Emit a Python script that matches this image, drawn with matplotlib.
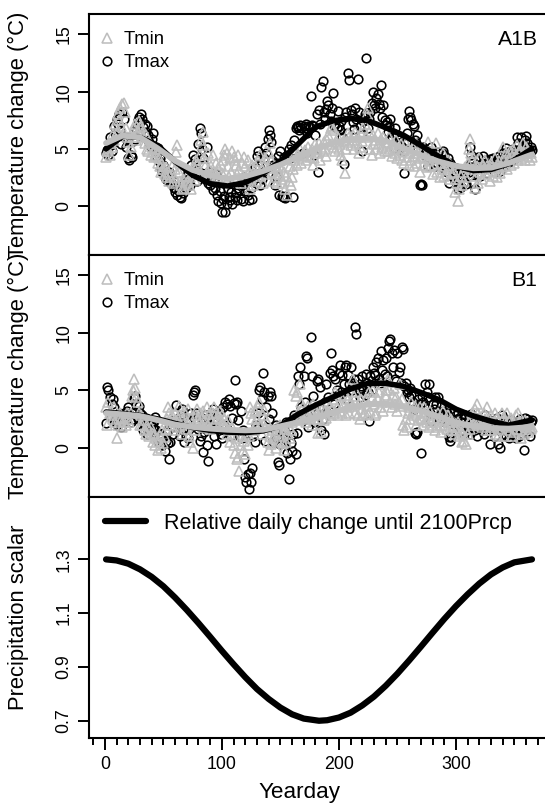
import matplotlib
matplotlib.use('Agg')
import matplotlib.pyplot as plt
from matplotlib.ticker import MultipleLocator, FixedLocator
import numpy as np

plt.rcParams['font.family'] = ['Liberation Sans', 'DejaVu Sans']

days = np.arange(1, 366)

# ---------------- A1B scenario (daily change, deg C) ----------------
a1b_tmax = [
    4.6, 4.9, 4.5, 6.0, 5.3, 4.8, 5.6, 7.0, 6.4, 7.6,
    7.2, 8.0, 6.6, 5.4, 8.2, 7.6, 6.0, 5.2, 5.8, 4.2,
    4.0, 4.5, 4.3, 5.7, 6.5, 5.9, 6.8, 7.5, 7.8, 7.3,
    8.0, 7.6, 6.9, 7.2, 6.5, 7.0, 6.2, 5.6, 5.2, 5.9,
    6.4, 5.0, 4.8, 4.4, 5.1, 3.9, 4.2, 3.3, 3.0, 3.6,
    2.7, 2.4, 2.9, 2.2, 3.0, 2.5, 1.9, 2.3, 1.6, 1.2,
    1.5, 1.0, 1.3, 0.8, 0.7, 1.4, 1.1, 2.0, 1.6, 2.6,
    3.0, 2.4, 1.8, 3.6, 4.5, 3.2, 4.1, 2.8, 2.2, 5.4,
    6.8, 6.4, 5.0, 4.2, 3.6, 2.4, 5.2, 2.0, 3.0, 1.8,
    2.5, 1.4, 2.2, 1.6, 2.8, 1.0, 0.4, 1.3, 0.3, -0.5,
    0.6, 0.9, -0.5, 0.2, 1.5, 0.8, 0.5, 1.2, 0.2, 2.2,
    0.8, 1.1, 0.5, 1.6, 1.4, 0.6, 1.8, 0.4, 2.5, 1.3,
    2.0, 1.0, 0.5, 2.2, 1.6, 0.6, 2.8, 3.4, 2.0, 4.4,
    4.8, 3.5, 1.8, 2.4, 3.0, 4.2, 5.2, 4.6, 5.9, 6.6,
    6.2, 5.6, 4.0, 3.6, 1.8, 2.6, 3.8, 4.4, 1.0, 4.8,
    0.9, 0.8, 4.3, 0.7, 0.9, 4.5, 5.0, 4.2, 5.3, 4.8,
    0.8, 5.8, 6.8, 7.0, 6.9, 6.6, 7.1, 6.8, 4.6, 7.0,
    6.8, 7.2, 6.4, 7.0, 6.9, 9.6, 7.1, 7.0, 4.5, 6.2,
    8.0, 3.0, 8.4, 7.2, 10.4, 10.9, 8.2, 7.6, 8.5, 9.2,
    8.8, 8.0, 7.4, 8.6, 9.9, 7.0, 7.2, 6.8, 8.3, 7.0,
    6.6, 7.4, 6.0, 3.7, 7.8, 8.2, 6.4, 11.6, 11.0, 8.4,
    8.0, 7.3, 6.7, 8.6, 7.6, 11.1, 8.2, 7.0, 6.2, 4.8,
    7.4, 8.0, 12.9, 8.1, 6.8, 7.6, 8.2, 9.0, 10.0, 8.8,
    8.6, 9.4, 9.8, 8.9, 8.6, 10.6, 7.8, 8.8, 7.5, 7.1,
    7.3, 6.5, 7.0, 7.6, 6.0, 6.4, 5.1, 6.8, 5.6, 6.2,
    5.8, 5.4, 6.0, 5.2, 4.8, 2.9, 5.6, 6.4, 7.6, 8.3,
    7.8, 7.5, 7.2, 7.0, 5.8, 5.5, 6.2, 5.0, 1.8, 1.9,
    1.8, 5.2, 4.6, 5.0, 4.2, 3.5, 4.8, 4.0, 5.2, 4.6,
    4.2, 3.5, 4.4, 3.8, 4.7, 4.1, 3.4, 4.6, 4.8, 4.5,
    3.5, 3.0, 4.2, 2.0, 3.8, 3.4, 2.6, 3.1, 2.2, 2.8,
    2.0, 1.5, 2.4, 1.7, 2.5, 3.2, 2.1, 2.9, 1.9, 3.5,
    3.0, 5.2, 4.5, 4.0, 2.0, 1.5, 3.6, 2.8, 4.3, 3.4,
    2.6, 3.8, 4.4, 3.2, 3.5, 4.0, 2.9, 3.7, 4.1, 3.3,
    3.6, 4.2, 3.0, 3.8, 4.0, 3.5, 4.4, 3.1, 3.9, 4.6,
    4.2, 3.6, 5.1, 3.8, 4.3, 4.8, 3.9, 4.5, 5.0, 4.1,
    4.7, 6.0, 5.5, 4.4, 5.0, 6.0, 5.3, 4.8, 5.8, 6.1,
    5.5, 5.0, 4.7, 5.2, 4.9,
]

a1b_tmin = [
    4.3, 4.8, 5.0, 4.5, 5.5, 5.2, 6.3, 5.8, 7.2, 6.5,
    8.0, 7.5, 8.6, 7.0, 8.9, 9.0, 8.2, 6.8, 6.0, 5.6,
    4.5, 5.2, 6.4, 6.0, 6.8, 7.2, 5.8, 6.5, 7.4, 6.9,
    7.0, 6.4, 6.0, 5.5, 6.2, 5.0, 4.8, 5.6, 4.5, 5.2,
    4.7, 4.3, 5.0, 4.4, 3.8, 4.2, 3.5, 3.0, 3.7, 3.2,
    2.8, 3.4, 2.5, 3.0, 2.2, 2.7, 3.5, 2.0, 2.5, 3.2,
    4.7, 5.3, 3.0, 2.2, 1.8, 1.5, 2.4, 1.6, 2.0, 2.6,
    2.2, 1.8, 2.5, 1.5, 2.8, 3.4, 2.3, 4.0, 3.6, 3.0,
    4.5, 5.8, 5.3, 6.5, 4.2, 3.5, 3.0, 4.6, 3.2, 2.6,
    3.5, 4.5, 3.0, 2.8, 3.8, 2.5, 3.3, 2.2, 3.6, 2.9,
    4.0, 4.5, 5.0, 4.6, 3.5, 2.5, 4.2, 3.0, 4.8, 4.3,
    4.0, 3.6, 2.8, 4.5, 3.2, 2.0, 3.8, 2.6, 4.3, 3.5,
    2.5, 4.0, 3.0, 1.5, 2.4, 3.6, 1.8, 2.8, 3.4, 2.2,
    3.9, 2.6, 4.5, 3.2, 2.0, 3.6, 4.2, 2.8, 3.3, 4.6,
    5.5, 4.0, 3.0, 2.2, 3.5, 2.5, 2.0, 3.2, 2.8, 3.4,
    2.4, 2.0, 3.0, 1.5, 2.6, 1.0, 2.2, 3.5, 1.8, 2.5,
    3.2, 4.0, 4.8, 3.6, 4.5, 4.2, 5.0, 3.8, 4.4, 4.6,
    4.9, 4.0, 4.5, 5.2, 4.3, 4.8, 5.0, 3.6, 4.2, 5.4,
    5.0, 4.6, 5.5, 4.0, 5.2, 4.8, 5.6, 5.0, 4.4, 5.8,
    6.2, 5.4, 6.8, 7.0, 6.6, 5.2, 4.8, 5.6, 6.0, 5.0,
    5.4, 4.5, 4.0, 5.8, 2.9, 5.0, 5.6, 6.4, 6.0, 5.3,
    5.8, 6.2, 5.0, 6.5, 5.5, 6.0, 4.6, 5.2, 6.3, 5.7,
    6.8, 7.2, 6.0, 8.0, 8.6, 6.5, 5.0, 4.5, 6.2, 5.4,
    5.8, 5.0, 6.4, 5.5, 4.6, 5.9, 5.2, 6.0, 4.8, 5.6,
    5.3, 4.8, 6.0, 5.0, 4.4, 5.5, 5.2, 4.6, 5.8, 4.2,
    5.0, 4.5, 5.4, 4.0, 4.8, 3.8, 5.5, 4.3, 5.0, 3.6,
    4.6, 4.0, 5.2, 3.5, 4.4, 5.5, 3.8, 4.6, 3.0, 4.2,
    4.8, 3.6, 5.0, 4.3, 3.4, 5.6, 4.0, 3.5, 4.5, 2.8,
    3.6, 4.2, 5.5, 3.0, 4.4, 2.5, 3.8, 3.2, 4.6, 2.6,
    3.5, 2.8, 4.0, 3.3, 2.4, 3.6, 2.9, 3.0, 1.2, 2.4,
    2.0, 0.4, 1.5, 2.6, 1.8, 3.0, 2.2, 3.4, 2.5, 3.8,
    5.0, 5.9, 4.6, 4.0, 3.2, 1.6, 2.6, 3.5, 2.0, 4.2,
    3.0, 2.4, 3.6, 3.2, 4.0, 2.8, 3.5, 3.0, 2.2, 3.8,
    3.4, 2.6, 4.2, 3.1, 2.5, 3.6, 3.9, 2.9, 3.4, 5.2,
    4.0, 3.5, 4.6, 3.2, 4.2, 4.8, 3.6, 4.4, 5.0, 3.8,
    4.5, 5.3, 4.0, 4.7, 5.0, 4.2, 5.5, 4.6, 4.0, 5.2,
    4.4, 4.8, 4.0, 4.6, 4.3,
]

# ---------------- B1 scenario (daily change, deg C) ----------------
b1_tmax = [
    2.1, 5.3, 5.0, 4.4, 2.7, 3.8, 4.2, 3.5, 2.4, 2.0,
    2.6, 3.0, 2.2, 1.8, 2.5, 3.0, 2.4, 2.8, 3.2, 3.5,
    2.9, 2.2, 3.0, 2.5, 4.3, 4.5, 3.8, 2.5, 3.6, 3.0,
    2.4, 2.8, 1.5, 2.0, 2.6, 1.2, 2.2, 1.6, 1.9, 1.4,
    1.8, 2.3, 2.7, 1.5, 0.5, 1.2, 0.8, 2.0, 0.2, 1.0,
    -0.3, 0.6, 1.4, 0.4, -1.0, 0.5, 1.8, 1.2, 2.2, 3.0,
    3.7, 2.5, 2.0, 1.0, 2.8, 3.4, 1.5, 0.5, 1.0, 2.2,
    0.8, 1.6, 2.4, 3.0, 4.6, 4.8, 5.0, 3.0, 2.2, 1.6,
    0.6, 1.0, 2.6, -0.4, 1.4, 2.8, 0.2, -1.2, 1.8, 2.0,
    3.0, 3.4, 1.0, 2.5, 0.3, 1.6, 2.8, 3.2, 1.2, 0.8,
    3.5, 2.0, 4.0, 3.8, 1.5, 4.2, 3.6, 1.0, 2.6, 3.9,
    5.9, 3.8, 4.0, 2.4, 1.0, 3.2, 0.8, 1.5, -1.0, -2.6,
    -3.0, -2.3, -3.6, -2.2, -3.0, -1.8, 1.0, 0.5, 2.0, 1.6,
    3.0, 5.0, 5.3, 4.2, 6.5, 4.8, 0.6, 3.5, 4.5, 2.5,
    4.8, 4.5, 3.0, 0.5, 1.5, 2.0, 0.8, -1.3, -1.5, 0.3,
    1.0, 0.8, 1.6, 0.5, 2.2, -0.5, -2.7, -1.0, 0.4, -0.3,
    1.2, 2.8, -0.6, 1.3, 6.2, 5.5, 7.0, 3.5, 2.5, 6.2,
    4.0, 8.0, 7.8, 1.8, 3.0, 9.6, 6.2, 4.5, 2.2, 3.2,
    5.8, 6.0, 3.5, 5.3, 1.5, 2.5, 1.2, 4.0, 5.5, 3.0,
    4.4, 6.5, 8.2, 6.8, 6.2, 3.8, 6.0, 5.0, 4.6, 6.5,
    7.2, 4.8, 6.3, 5.5, 7.0, 7.2, 4.2, 6.3, 5.5, 7.0,
    5.0, 5.6, 6.0, 10.5, 9.9, 6.0, 5.0, 4.4, 5.4, 6.2,
    5.0, 4.6, 6.4, 5.6, 4.8, 2.3, 6.2, 5.0, 7.0, 6.5,
    6.3, 7.5, 7.8, 6.0, 5.6, 8.4, 6.8, 7.6, 6.4, 7.8,
    6.2, 8.7, 9.3, 9.5, 8.2, 7.0, 8.5, 6.0, 5.8, 8.2,
    6.6, 7.0, 5.6, 8.8, 8.6, 5.4, 5.6, 4.8, 5.0, 4.4,
    5.2, 4.6, 4.0, 3.4, 1.3, 1.2, 1.4, 4.2, 3.8, -0.5,
    4.5, 4.0, 3.6, 5.5, 4.8, 4.4, 5.5, 3.0, 2.3, 3.8,
    3.4, 4.4, 3.8, 2.6, 4.4, 3.0, 3.6, 2.5, 3.2, 2.8,
    2.2, 3.0, 2.4, 0.9, 0.6, 0.9, 2.5, 3.2, 2.0, 2.8,
    2.5, 3.0, 1.8, 2.6, 1.5, 2.2, 1.2, 2.8, 2.0, 1.6,
    2.4, 1.2, 2.9, 1.8, 2.2, 1.5, 2.6, 1.0, 2.0, 1.7,
    2.3, 1.5, 2.0, 1.2, 2.8, 1.8, 1.5, 2.4, 0.3, 2.0,
    1.6, 2.2, 1.0, 1.8, 2.6, 0.3, 1.5, 0.0, 2.8, 1.2,
    2.5, 1.5, 1.0, 2.2, 0.8, 1.8, 2.4, 1.2, 2.0, 1.5,
    0.8, 2.2, 1.6, 1.0, 2.5, 1.8, 2.0, -0.2, 2.6, 1.4,
    2.5, 2.0, 1.0, 2.2, 2.4,
]

b1_tmin = [
    3.5, 2.0, 4.0, 3.0, 3.2, 2.8, 2.5, 3.5, 2.2, 0.8,
    2.0, 2.6, 3.0, 2.4, 1.8, 2.2, 2.7, 2.0, 3.0, 2.5,
    2.2, 3.0, 4.5, 5.0, 6.0, 5.2, 4.4, 4.0, 3.0, 2.0,
    2.8, 2.0, 2.4, 1.5, 1.2, 2.0, 1.6, 1.0, 1.8, 1.3,
    0.5, 1.2, 0.2, 0.8, -0.2, 0.6, 1.0, 0.0, 1.5, 0.4,
    0.9, 1.6, 2.5, 3.5, 3.0, 2.0, 2.8, 1.5, 2.2, 3.0,
    2.4, 1.8, 3.6, 2.8, 2.0, 1.2, 2.5, 3.2, 1.6, 2.2,
    3.4, 1.0, 0.5, 2.6, 0.0, 2.0, 1.5, 2.8, 3.4, 2.4,
    3.0, 2.0, 2.6, 3.2, 1.8, 2.4, 3.5, 2.0, 2.9, 1.6,
    2.5, 3.0, 3.5, 2.2, 3.0, 2.6, 1.8, 3.2, 2.4, 2.8,
    2.0, 2.6, 1.8, 1.2, 2.4, 1.5, 0.5, 1.0, 1.8, 0.2,
    -0.5, 0.8, -1.0, -0.8, -2.0, 0.2, 1.0, -0.3, 0.6, -0.6,
    1.2, 0.2, 1.0, 3.5, 3.0, 2.5, 1.5, 3.2, 2.0, 2.6,
    3.5, 4.0, 2.0, 1.2, 2.8, 3.3, 1.8, 2.4, 0.5, -0.2,
    1.0, 0.3, 1.5, 0.8, 1.2, 0.0, 1.8, 0.6, 1.4, 2.0,
    1.0, 0.4, -0.2, 1.6, 0.5, 1.2, 1.8, 0.8, 1.5, 2.2,
    2.6, 5.0, 4.5, 4.8, 3.0, 2.4, 5.5, 4.0, 3.5, 2.5,
    3.0, 2.2, 2.8, 3.6, 2.6, 3.2, 2.0, 3.8, 2.5, 3.4,
    2.8, 1.3, 2.5, 3.0, 1.4, 3.5, 2.4, 3.2, 2.6, 4.0,
    3.0, 3.6, 2.8, 3.4, 4.2, 3.0, 4.8, 3.5, 2.8, 3.8,
    3.2, 4.5, 3.0, 3.8, 4.6, 2.8, 3.5, 4.2, 3.0, 4.0,
    3.6, 6.0, 4.5, 3.0, 4.8, 2.8, 3.8, 2.5, 4.2, 3.4,
    2.8, 3.0, 4.2, 3.6, 2.9, 4.8, 3.2, 4.4, 5.0, 3.8,
    2.8, 3.0, 4.2, 4.8, 3.5, 5.5, 4.0, 3.2, 4.6, 5.0,
    5.8, 6.0, 5.0, 4.0, 3.5, 4.6, 5.2, 3.8, 4.4, 3.2,
    4.0, 5.5, 3.6, 4.2, 2.0, 1.5, 2.5, 1.8, 3.0, 3.5,
    2.5, 4.0, 3.2, 2.8, 3.6, 2.0, 3.0, 2.4, 3.5, 2.6,
    2.5, 2.0, 3.5, 3.0, 2.2, 2.8, 1.8, 3.2, 2.4, 2.0,
    2.6, 1.5, 2.2, 1.8, 3.0, 2.0, 1.4, 2.5, 3.2, 2.0,
    2.4, 1.6, 2.8, 2.2, 1.8, 2.5, 1.5, 2.0, 1.2, 1.5,
    1.8, 2.2, 1.0, 1.4, 0.5, 1.2, 0.6, 1.6, 0.3, 1.2,
    2.2, 1.6, 2.6, 3.0, 2.0, 3.4, 2.5, 3.8, 3.0, 2.0,
    2.5, 1.8, 2.2, 3.0, 2.5, 1.5, 3.5, 2.5, 1.5, 2.8,
    1.8, 2.2, 3.0, 1.2, 2.6, 1.0, 2.0, 1.6, 3.0, 2.6,
    1.0, 2.2, 1.8, 3.0, 2.4, 1.5, 2.6, 1.0, 2.0, 1.4,
    2.8, 1.6, 3.0, 2.2, 1.5, 0.8, 2.0, 1.2, 2.4, 1.8,
    2.2, 1.4, 2.0, 1.6, 1.8,
]

# ---------------- smoothed curves ----------------
fit_days = [1, 15, 30, 45, 60, 75, 90, 105, 120, 135, 150, 165, 180,
            195, 210, 225, 240, 255, 270, 285, 300, 315, 330, 345, 365]
a1b_tmax_fit = [5.0, 6.1, 6.0, 5.3, 3.9, 2.7, 1.95, 1.75, 2.05, 2.85, 3.9, 5.4, 6.9,
                7.45, 7.65, 7.45, 6.85, 6.2, 5.3, 4.35, 3.5, 3.1, 3.2, 3.7, 5.0]
a1b_tmin_fit = [5.5, 6.15, 6.0, 5.05, 3.95, 3.15, 2.7, 2.4, 2.6, 3.05, 3.6, 4.3, 5.0,
                5.5, 5.8, 5.9, 5.7, 5.05, 4.45, 3.9, 3.5, 3.3, 3.35, 3.75, 4.5]
b1_tmax_fit = [3.1, 2.95, 2.8, 2.5, 2.1, 1.75, 1.5, 1.35, 1.3, 1.45, 1.9, 2.9, 3.7,
               4.4, 5.1, 5.6, 5.6, 5.35, 4.8, 4.2, 3.35, 2.75, 2.3, 1.95, 2.4]
b1_tmin_fit = [3.0, 2.9, 2.75, 2.4, 2.0, 1.8, 1.65, 1.55, 1.5, 1.55, 1.85, 2.2, 2.6,
               3.05, 3.5, 3.75, 3.85, 3.55, 3.2, 2.7, 2.2, 1.85, 1.7, 1.65, 1.8]

# ---------------- precipitation scalar ----------------
prcp_days = [1, 10, 20, 30, 40, 50, 60, 70, 80, 90, 100, 110, 120, 130, 140, 150,
             160, 170, 183, 190, 200, 210, 220, 230, 240, 250, 260, 270, 280, 290,
             300, 310, 320, 330, 340, 350, 365]
prcp_scalar = [1.300, 1.296, 1.284, 1.263, 1.235, 1.200, 1.158, 1.112, 1.063, 1.012,
               0.960, 0.910, 0.862, 0.818, 0.781, 0.749, 0.724, 0.708, 0.700, 0.702,
               0.712, 0.730, 0.757, 0.790, 0.830, 0.875, 0.924, 0.975, 1.027, 1.078,
               1.126, 1.170, 1.210, 1.244, 1.270, 1.289, 1.300]

temp_ticks = [0, 5, 10, 15]
prcp_ticks = [0.7, 0.9, 1.1, 1.3]
x_ticks = [0, 100, 200, 300]

GRAY = '#BEBEBE'
FW, FH = 545.0, 805.0

fig = plt.figure(figsize=(FW / 100, FH / 100), dpi=100)
L = 89 / FW
W = (549 - 89) / FW


def add_ax(top, bot):
    return fig.add_axes([L, 1 - bot / FH, W, (bot - top) / FH])


ax1 = add_ax(14, 255)
ax2 = add_ax(255, 496.7)
ax3 = add_ax(496.7, 737.7)

XLIM = (-13.56, 379.56)
LABEL_X = -0.13
LABEL_FS = 15.8


def style_frame(ax):
    for s in ax.spines.values():
        s.set_linewidth(1.5)
    ax.tick_params(axis='y', length=8, width=1.4, labelsize=12.8, pad=4,
                   labelrotation=90)
    for t in ax.get_yticklabels():
        t.set_va('center')


panels = [
    (ax1, a1b_tmax, a1b_tmin, a1b_tmax_fit, a1b_tmin_fit, 'A1B'),
    (ax2, b1_tmax, b1_tmin, b1_tmax_fit, b1_tmin_fit, 'B1'),
]
for ax, tmax, tmin, fmax, fmin, name in panels:
    hmax, = ax.plot(days, tmax, ls='none', marker='o', ms=6.2, mfc='none',
                    mec='black', mew=1.15, label='Tmax')
    hmin, = ax.plot(days, tmin, ls='none', marker='^', ms=7.2, mfc='none',
                    mec=GRAY, mew=1.15, label='Tmin')
    ax.plot(fit_days, fmax, color='black', lw=4.0, solid_capstyle='round')
    ax.plot(fit_days, fmin, color=GRAY, lw=4.2, solid_capstyle='round')
    ax.set_xlim(*XLIM)
    ax.set_ylim(-4.28, 16.78)
    ax.set_xticks([])
    ax.set_yticks(temp_ticks)
    ax.set_yticklabels([str(v) for v in temp_ticks])
    style_frame(ax)
    ax.set_ylabel('Temperature change (°C)', fontsize=LABEL_FS)
    ax.yaxis.set_label_coords(LABEL_X, 0.5)
    ax.legend([hmin, hmax], ['Tmin', 'Tmax'], loc='upper left',
              bbox_to_anchor=(0, 1 - 9 / 241), frameon=False,
              fontsize=13.3, handlelength=1.0, handletextpad=0.45,
              borderaxespad=0.2, borderpad=0.25, labelspacing=0.32, numpoints=1)
    ax.text(0.975, 0.893, name, transform=ax.transAxes, ha='right', va='center',
            fontsize=15.3)

# precipitation panel
hp, = ax3.plot(prcp_days, prcp_scalar, color='black', lw=4.5,
               solid_capstyle='round', solid_joinstyle='round')
ax3.set_xlim(*XLIM)
ax3.set_ylim(0.637, 1.533)
ax3.set_yticks(prcp_ticks)
ax3.set_yticklabels([f'{v:.1f}' for v in prcp_ticks])
style_frame(ax3)
ax3.xaxis.set_major_locator(FixedLocator(x_ticks))
ax3.xaxis.set_minor_locator(MultipleLocator(10))
ax3.tick_params(axis='x', which='major', length=8.5, width=1.4, labelsize=12.8, pad=5)
ax3.tick_params(axis='x', which='minor', length=5, width=1.4)
ax3.set_ylabel('Precipitation scalar', fontsize=LABEL_FS)
ax3.yaxis.set_label_coords(LABEL_X, 0.5)
ax3.set_xlabel('Yearday', fontsize=16.2)
ax3.xaxis.set_label_coords((299 - 89) / 460, -0.185)
ax3.legend([hp], ['Relative daily change until 2100Prcp'], loc='upper left',
           frameon=False, fontsize=15.5, handlelength=1.9, handletextpad=0.85,
           borderaxespad=0.45, borderpad=0.3)

fig.savefig('out.png', dpi=100)
